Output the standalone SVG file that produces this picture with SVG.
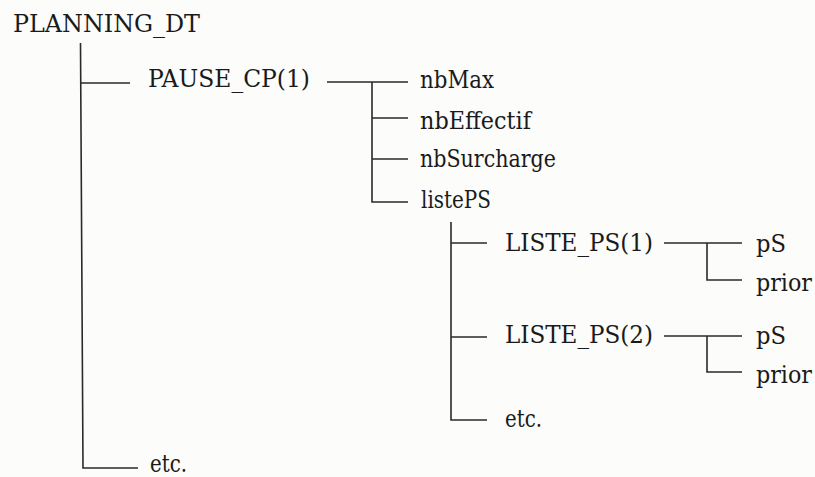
<svg xmlns="http://www.w3.org/2000/svg" width="815" height="477" viewBox="0 0 815 477">
<style>
.c{stroke:#2a2a2a;stroke-width:1.6;fill:none}
</style>
<rect width="815" height="477" fill="#fcfcfa"/>
<g id="connectors" class="c">
<path d="M80.5,43 L83,468 L138,468"/>
<path d="M81,83 L130,83"/>
<path d="M327,82 L408,82 M372,82 L372,202 L408,202 M372,118 L408,118 M372,159 L408,159"/>
<path d="M451,222 L451,420 L487,420 M451,243 L487,243 M451,337 L487,337"/>
<path d="M664,243 L742,243 M707,243 L707,280 L742,280"/>
<path d="M664,336 L742,336 M707,336 L707,372 L742,372"/>
</g>
<g font-family="DejaVu Serif, serif" font-size="24" fill="#1a1a1a">
<g id="n-planning"><text x="13" y="32" textLength="187" lengthAdjust="spacingAndGlyphs">PLANNING_DT</text></g>
<g id="n-pause"><text x="148" y="87" textLength="162" lengthAdjust="spacingAndGlyphs">PAUSE_CP(1)</text></g>
<g id="n-nbmax"><text x="420" y="88" textLength="74" lengthAdjust="spacingAndGlyphs">nbMax</text></g>
<g id="n-nbeffectif"><text x="420" y="129" textLength="111" lengthAdjust="spacingAndGlyphs">nbEffectif</text></g>
<g id="n-nbsurcharge"><text x="420" y="167" textLength="136" lengthAdjust="spacingAndGlyphs">nbSurcharge</text></g>
<g id="n-listeps"><text x="421" y="208" textLength="70" lengthAdjust="spacingAndGlyphs">listePS</text></g>
<g id="n-liste1"><text x="505" y="251" textLength="148" lengthAdjust="spacingAndGlyphs">LISTE_PS(1)</text></g>
<g id="n-ps1"><text x="756" y="252" textLength="30" lengthAdjust="spacingAndGlyphs">pS</text></g>
<g id="n-prior1"><text x="756" y="291" textLength="56" lengthAdjust="spacingAndGlyphs">prior</text></g>
<g id="n-liste2"><text x="505" y="343" textLength="148" lengthAdjust="spacingAndGlyphs">LISTE_PS(2)</text></g>
<g id="n-ps2"><text x="756" y="344" textLength="30" lengthAdjust="spacingAndGlyphs">pS</text></g>
<g id="n-prior2"><text x="756" y="383" textLength="56" lengthAdjust="spacingAndGlyphs">prior</text></g>
<g id="n-etc2"><text x="505" y="427" textLength="37" lengthAdjust="spacingAndGlyphs">etc.</text></g>
<g id="n-etc1"><text x="150" y="472" textLength="37" lengthAdjust="spacingAndGlyphs">etc.</text></g>
</g>
</svg>
